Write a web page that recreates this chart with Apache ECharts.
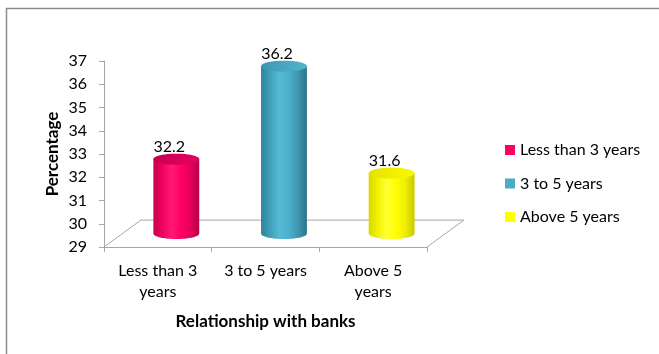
<!DOCTYPE html>
<html>
<head>
<meta charset="utf-8">
<script src="https://cdn.jsdelivr.net/npm/echarts@6/dist/echarts.min.js"></script>
<style>
  html, body { margin: 0; padding: 0; background: #fff; }
  #chart { width: 659px; height: 354px; }
</style>
</head>
<body>
<div id="chart"></div>
<script>
// Bank relationship duration vs. percentage of respondents
const categories = ['Less than 3 years', '3 to 5 years', 'Above 5 years'];
const tickLabels = ['Less than 3\nyears', '3 to 5 years', 'Above 5\nyears'];
const values = [32.2, 36.2, 31.6];
const axisMin = 29;
const axisMax = 37;
const axisStep = 1;

// Cylinder colouring: legend swatch, body shading (left -> right), top cap
const shades = [
  { base: '#FF0066',
    body: ['#C8004F', '#F00060', '#FF1A74', '#FF0066', '#E8005D', '#B50047'],
    cap: ['#C00050', '#D8005A', '#E6005F'] },
  { base: '#4BACC6',
    body: ['#2F8399', '#3FA0BA', '#57BAD4', '#4BB0CA', '#3E97AF', '#2B7489'],
    cap: ['#3C97B0', '#47A7C1', '#53B3CC'] },
  { base: '#FFFF00',
    body: ['#D8D800', '#F2F200', '#FFFF33', '#FFFF00', '#EDED00', '#C9C900'],
    cap: ['#E2E200', '#EFEF00', '#F8F800'] }
];

const FONT = 'Lato, "Liberation Sans", sans-serif';
const FS = 16;
const FS_TITLE = 17;
const DEPTH_X = 0.343;   // floor depth, fraction of band width
const DEPTH_Y = 0.25;

function stops(list) {
  return list.map((c, k) => ({ offset: k / (list.length - 1), color: c }));
}

function cylinderRenderer(shade) {
  return function (params, api) {
    const i = api.value(0);
    const v = api.value(1);
    const bw = api.size([1, 0])[0];
    const base = api.coord([i, axisMin]);
    const top = api.coord([i, v]);
    const dx = bw * DEPTH_X / 2;
    const dy = -bw * DEPTH_Y / 2;
    const cx = base[0] + dx;
    const yb = base[1] + dy;
    const yt = top[1] + dy;
    const rx = bw * 0.213;
    const ry = rx * 0.24;
    const N = 48;
    const body = [[cx - rx, yt]];
    for (let k = 0; k <= N; k++) {
      const a = Math.PI * k / N;
      body.push([cx - rx * Math.cos(a), yb + ry * Math.sin(a)]);
    }
    body.push([cx + rx, yt]);
    const cap = [];
    for (let k = 0; k < 2 * N; k++) {
      const a = Math.PI * k / N;
      cap.push([cx + rx * Math.cos(a), yt + ry * Math.sin(a)]);
    }
    return {
      type: 'group',
      children: [
        { type: 'polygon', shape: { points: body },
          style: { fill: new echarts.graphic.LinearGradient(0, 0, 1, 0, stops(shade.body)) } },
        { type: 'polygon', shape: { points: cap },
          style: { fill: new echarts.graphic.LinearGradient(0, 0, 1, 0, stops(shade.cap)) } },
        { type: 'text',
          style: { text: String(v), x: cx - bw * 0.065, y: yt - ry + 1,
                   align: 'center', verticalAlign: 'bottom',
                   font: FS + 'px ' + FONT, fill: '#000' } }
      ]
    };
  };
}

function floorRenderer(params, api) {
  const bw = api.size([1, 0])[0];
  const c = api.coord([0, axisMin]);
  const x0 = c[0] - bw / 2;
  const x1 = x0 + bw * categories.length;
  const y0 = c[1];
  const dx = bw * DEPTH_X;
  const dy = -bw * DEPTH_Y;
  return {
    type: 'polyline',
    shape: { points: [[x0, y0], [x0 + dx, y0 + dy], [x1 + dx, y0 + dy], [x1, y0]] },
    style: { stroke: '#A6A6A6', lineWidth: 1, fill: null }
  };
}

const series = [{
  type: 'custom',
  name: 'floor',
  renderItem: floorRenderer,
  data: [[0, axisMin]],
  encode: { x: 0, y: 1 },
  silent: true,
  z: 1
}];
categories.forEach((name, i) => {
  series.push({
    type: 'custom',
    name: name,
    renderItem: cylinderRenderer(shades[i]),
    itemStyle: { color: shades[i].base },
    data: [[i, values[i]]],
    encode: { x: 0, y: 1 },
    z: 2
  });
});

const chart = echarts.init(document.getElementById('chart'), null, { renderer: 'canvas' });
chart.setOption({
  animation: false,
  backgroundColor: '#fff',
  textStyle: { fontFamily: FONT },
  graphic: [{
    type: 'rect',
    shape: { x: 6.5, y: 8.5, width: 720, height: 420 },
    style: { fill: null, stroke: '#8C8C8C', lineWidth: 1.5 },
    silent: true
  }],
  grid: { left: 104, right: 232, top: 61, bottom: 107, containLabel: false },
  legend: {
    orient: 'vertical',
    left: 500,
    top: 137,
    itemWidth: 10,
    itemHeight: 10,
    itemGap: 17.5,
    icon: 'rect',
    data: categories,
    textStyle: { fontSize: FS, color: '#000', fontFamily: FONT }
  },
  xAxis: {
    type: 'category',
    data: categories,
    boundaryGap: true,
    name: 'Relationship with banks',
    nameLocation: 'middle',
    nameGap: 66,
    nameTextStyle: { fontSize: FS_TITLE, fontWeight: 'bold', color: '#000', fontFamily: FONT },
    axisLine: { lineStyle: { color: '#A6A6A6' } },
    axisTick: { show: true, length: 5, lineStyle: { color: '#A6A6A6' } },
    axisLabel: {
      margin: 13,
      fontSize: FS,
      lineHeight: 21,
      color: '#000',
      fontFamily: FONT,
      formatter: (val, idx) => tickLabels[idx]
    },
    splitLine: { show: false }
  },
  yAxis: {
    type: 'value',
    min: axisMin,
    max: axisMax,
    interval: axisStep,
    name: 'Percentage',
    nameLocation: 'middle',
    nameRotate: 90,
    nameGap: 43,
    nameTextStyle: { fontSize: FS_TITLE, fontWeight: 'bold', color: '#000', fontFamily: FONT },
    axisLine: { show: true, lineStyle: { color: '#A6A6A6' } },
    axisTick: { show: true, length: 5, lineStyle: { color: '#A6A6A6' } },
    axisLabel: { margin: 17, fontSize: FS, color: '#000', fontFamily: FONT },
    splitLine: { show: false }
  },
  series: series
});
</script>
</body>
</html>
